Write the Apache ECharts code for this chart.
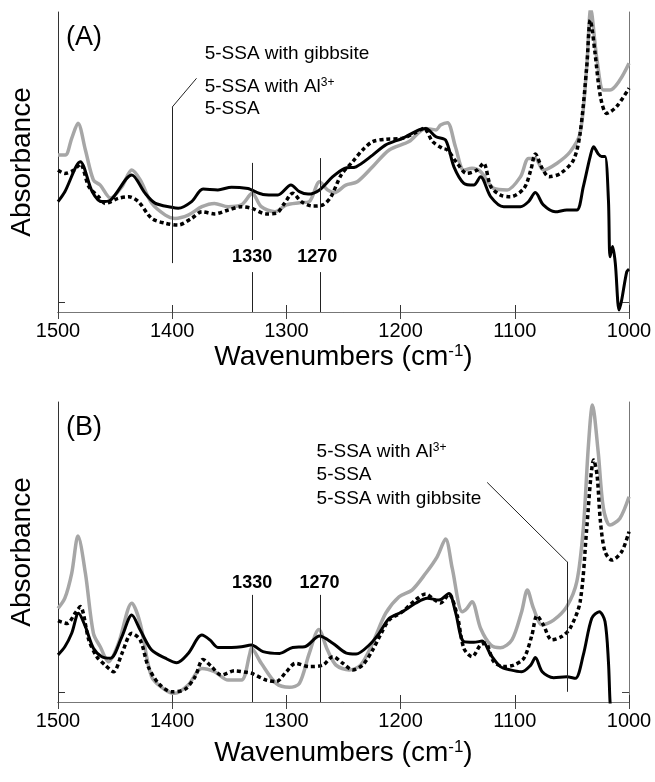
<!DOCTYPE html>
<html>
<head>
<meta charset="utf-8">
<script src="https://cdn.jsdelivr.net/npm/echarts@6/dist/echarts.min.js"></script>
<style>
html,body{margin:0;padding:0;background:#fff;}
#chart{width:655px;height:782px;}
</style>
</head>
<body>
<div id="chart"></div>
<script>
// ---------- DATA (wavenumber cm-1, relative absorbance) ----------
const xTicks = [1500, 1400, 1300, 1200, 1100, 1000];

// Panel A
const a_gib_wn = [1500,1494,1480.5,1470,1461.6,1454,1435.4,1424,1415,1400.5,1394.7,1383,1373,1360,1348,1333.6,1330.7,1320.5,1307.5,1296,1288.6,1281,1271,1259.4,1249,1239,1224.5,1213,1198.4,1184,1178,1169,1160.6,1153.3,1144.6,1135.9,1130,1121,1109.7,1095,1088,1082,1075,1064.6,1054.5,1045.7,1040,1034,1031,1027,1024,1021,1018,1016.6,1014.4,1012,1008.7,1006.4,1002,1000];
const a_gib_abs = [36.8,40.1,50.1,40.1,36.8,37.3,45.7,39.7,36.3,34.9,34.6,36.8,41.0,40.7,41.6,41.2,40.7,39.2,39.0,42.3,40.1,39.3,40.7,45.1,47.9,48.4,52.3,55.7,57.9,60.7,61.2,58.4,57.3,48.4,42.9,42.3,45.1,38.4,35.1,35.1,36.8,39.8,35.7,33.4,34.0,34.0,41.8,51.8,55.1,52.7,51.8,51.8,37.3,18.4,21.8,16.3,0.7,4.0,13.4,14.3];

const a_al_wn = [1500,1493.6,1488,1482.5,1476,1469,1463,1454,1444,1435.4,1428,1418,1406,1397.6,1386,1374,1363,1351,1339.4,1332,1330,1322,1310,1300,1288.6,1280,1271,1264,1258,1248,1238,1224.5,1210,1192.6,1178,1169,1165,1159,1152,1144.6,1137.5,1130,1118.4,1106.7,1095,1088,1082,1075,1063,1051.5,1042.8,1037,1033.5,1028,1022.4,1016.6,1008,1000];
const a_al_abs = [52.3,52.3,57.9,62.9,54.0,44.0,42.3,38.0,41.8,47.3,44.0,36.3,32.3,31.2,32.3,35.1,36.2,35.1,35.7,39.0,39.6,35.1,33.4,35.7,36.4,36.8,43.4,40.7,39.8,42.3,43.4,48.4,54.0,56.8,61.2,60.7,62.3,63.1,55.1,47.3,47.9,46.8,41.2,40.7,45.1,51.2,51.2,47.3,49.6,53.4,59.6,81.8,101,84.0,74.0,74.0,77.3,82.9];

const a_ssa_wn = [1500,1494,1486,1480.5,1473,1464.5,1458.7,1447,1438,1429.6,1418,1406,1394.7,1383,1374,1363,1351,1339.4,1330.7,1317.6,1309,1301.7,1294.5,1287,1277,1268,1261,1252,1242,1233.3,1224.5,1213,1198.4,1187,1179.6,1172,1163.5,1159,1150.5,1142,1133,1127.4,1121,1112.6,1104,1092,1086,1082,1076,1070,1060,1048.6,1042.8,1037,1034,1032.6,1029.7,1025,1019.5,1011,1000];
const a_ssa_abs = [47.3,46.2,47.3,49.3,41.8,38.4,36.2,37.9,38.4,36.8,31.2,29.6,29.0,31.2,33.4,32.7,34.0,35.1,34.6,32.7,32.9,36.2,39.6,36.8,35.3,35.7,38.4,45.7,50.1,54.0,56.8,57.6,57.9,59.8,61.2,56.8,54.6,54.0,49.6,46.2,47.3,49.6,41.8,39.0,38.4,41.2,47.3,52.7,47.9,45.1,46.2,50.7,59.6,81.8,97.3,95.1,86.2,71.8,66.2,68.4,74.6];

// Panel B
const b_gib_wn = [1500,1494,1488,1482,1476,1469,1461.6,1454,1444,1435.4,1428,1418,1406,1396,1386,1374,1367,1360,1348,1339.4,1330.7,1320.5,1306,1294.5,1284,1271,1259.4,1248,1239,1227.5,1218.8,1210,1198.4,1187,1176.6,1166.4,1157.7,1152,1144.6,1135.9,1128.6,1121,1112.6,1104,1094,1086,1082,1076,1066,1054.5,1047,1040,1032.6,1026,1021,1018,1016.6,1014];
const b_gib_abs = [15.7,18.4,22.9,29.6,25.1,17.9,15.1,14.6,21.8,29.0,24.0,17.3,14.6,13.1,16.2,22.3,20.7,18.2,18.2,18.4,19.0,16.8,16.2,18.2,18.4,22.0,19.6,16.4,16.0,19.0,22.9,27.9,30.1,32.9,34.6,34.0,36.2,30.1,20.1,19.9,20.3,15.7,11.8,10.7,10.1,12.3,14.8,10.1,8.1,8.4,7.9,15.7,27.9,30.1,26.8,13.4,0.1,-12.7];

const b_al_wn = [1500,1494,1488,1482.5,1476,1469,1463,1455.8,1447,1435.4,1428,1418,1406,1397.6,1386,1374,1363,1351,1339.4,1332,1330.7,1322,1309,1297.3,1288.6,1280,1271.7,1264,1256.6,1245,1235,1224.5,1213,1201.3,1190,1178,1168,1160.6,1154.8,1146,1142,1137.5,1130,1121,1112.6,1102.5,1094,1089,1083.6,1076,1066,1054.5,1045.7,1040,1035.5,1032,1027,1022.4,1016.6,1008,1000];
const b_al_abs = [31.2,34.6,42.9,55.3,42.9,22.9,18.4,13.4,19.6,32.9,26.2,8.4,4.0,2.9,5.7,11.2,10.1,7.3,7.3,16.2,17.9,12.9,6.2,4.9,6.2,16.2,24.2,17.3,12.3,10.7,12.3,19.6,29.6,35.1,37.3,42.9,48.4,54.3,44.6,30.1,31.2,33.4,24.6,19.0,18.1,20.7,30.1,37.3,31.2,25.7,27.3,31.8,40.1,57.9,85.7,99.0,83.4,64.6,59.0,61.2,68.4];

const b_ssa_wn = [1500,1492,1485,1480.5,1473,1466,1458.7,1451.4,1444,1435.4,1428,1421,1412,1400.5,1389,1380,1373,1365.6,1357,1345.4,1333.6,1330.7,1317.6,1309,1300,1292,1280,1268,1259.4,1250.6,1242,1233.3,1224.5,1217,1210,1198.4,1187,1178,1171,1165,1157.7,1150.5,1144.6,1137.5,1130,1125.6,1118.4,1109.7,1101,1092,1085,1080.6,1075,1067.6,1059,1051.5,1042.8,1037,1033.5,1031,1028,1025,1021,1015,1006.4,1000];
const b_ssa_abs = [27.1,26.2,29.6,31.8,20.7,15.1,12.3,10.1,16.2,22.9,20.7,11.8,6.2,3.4,4.2,8.4,14.2,11.8,9.0,10.4,9.8,9.6,7.3,6.8,10.1,12.9,11.8,12.3,15.1,12.9,10.7,12.3,17.3,22.9,27.3,30.1,34.0,36.0,34.2,33.0,35.9,29.0,17.9,15.1,19.0,19.6,13.4,11.8,12.3,14.6,22.3,28.8,25.7,20.7,21.8,24.6,33.4,57.9,74.6,80.7,75.7,60.1,50.1,47.3,50.1,56.8];

// Annotation positions (data space)
const markA = [1330, 1270];
const markB = [1330, 1270];
const namesA = ['5-SSA with gibbsite', '5-SSA with Al3+', '5-SSA'];
const namesB = ['5-SSA with Al3+', '5-SSA', '5-SSA with gibbsite'];

// ---------- CHART ----------
const FONT = 'Liberation Sans, Arial, Helvetica, sans-serif';
const pair = (w, a) => w.map((v, i) => [v, a[i]]);
const chart = echarts.init(document.getElementById('chart'), null, {renderer: 'canvas'});

const grids = [
  {left: 56, top: 12, width: 573, height: 300},
  {left: 56, top: 402, width: 573, height: 300}
];

function xAxes(gi, gap) {
  return [
    {
      gridIndex: gi, type: 'value', min: xTicks[xTicks.length - 1], max: xTicks[0], interval: 100, inverse: true,
      position: 'bottom',
      axisLine: {show: true, lineStyle: {color: '#333', width: 1}},
      axisTick: {show: true, inside: true, length: 7, lineStyle: {color: '#333'}},
      axisLabel: {show: true, color: '#000', fontSize: 20, fontFamily: FONT, margin: 9, formatter: v => String(v)},
      splitLine: {show: false},
      name: 'Wavenumbers (cm{s|-1})',
      nameLocation: 'middle', nameGap: gap,
      nameTextStyle: {color: '#000', fontSize: 28, fontFamily: FONT,
        rich: {s: {fontSize: 17, fontFamily: FONT, color: '#000', verticalAlign: 'top', padding: [0, 0, 12, 0]}}}
    },
    {
      gridIndex: gi, type: 'value', min: xTicks[xTicks.length - 1], max: xTicks[0], interval: 100, inverse: true,
      position: 'top',
      axisLine: {show: true, lineStyle: {color: '#777', width: 1}},
      axisTick: {show: true, inside: true, length: 7, lineStyle: {color: '#444'}},
      axisLabel: {show: false}, splitLine: {show: false}
    }
  ];
}
function yAxes(gi) {
  return [
    {
      gridIndex: gi, type: 'value', min: 0, max: 100, position: 'left',
      axisLine: {show: true, lineStyle: {color: '#333', width: 1}},
      axisTick: {show: true, inside: true, length: 7, customValues: [3.3], lineStyle: {color: '#333'}},
      axisLabel: {show: false}, splitLine: {show: false},
      name: 'Absorbance', nameLocation: 'middle', nameGap: 22,
      nameTextStyle: {color: '#000', fontSize: 28, fontFamily: FONT}
    },
    {
      gridIndex: gi, type: 'value', min: 0, max: 100, position: 'right',
      axisLine: {show: true, lineStyle: {color: '#777', width: 1}},
      axisTick: {show: true, inside: true, length: 7, customValues: [3.3], lineStyle: {color: '#444'}},
      axisLabel: {show: false}, splitLine: {show: false}
    }
  ];
}

const labelRich = {
  n: {fontSize: 19, fontFamily: FONT, color: '#000'},
  s: {fontSize: 12, fontFamily: FONT, color: '#000', verticalAlign: 'top', padding: [0, 0, 9, 0]}
};
function fmtName(s) {
  if (s.endsWith('Al3+')) return '{n|' + s.slice(0, -2) + '}{s|3+}';
  return '{n|' + s + '}';
}
function textPoint(coord, text) {
  return {coord: coord, symbol: 'circle', symbolSize: 1, itemStyle: {color: 'rgba(0,0,0,0)'},
    label: {show: true, position: 'right', distance: 0, formatter: fmtName(text), rich: labelRich}};
}
function numPoint(coord, text) {
  return {coord: coord, symbol: 'circle', symbolSize: 1, itemStyle: {color: 'rgba(0,0,0,0)'},
    label: {show: true, position: 'inside', formatter: text, color: '#000', fontSize: 18, fontWeight: 'bold', fontFamily: FONT}};
}
const thin = {color: '#222', width: 1, type: 'solid'};
function seg(a, b) { return [{coord: a}, {coord: b}]; }

const annotA = {
  markLine: {
    silent: true, symbol: ['none', 'none'], label: {show: false}, lineStyle: thin, animation: false,
    data: [
      seg([1400, 68.3], [1400, 16.3]),
      seg([1400, 68.3], [1378.7, 77.9]),
      seg([markA[0], 49.7], [markA[0], 24]),
      seg([markA[0], 13.3], [markA[0], 0]),
      seg([markA[1], 51.3], [markA[1], 24]),
      seg([markA[1], 13.3], [markA[1], 0])
    ]
  },
  markPoint: {
    silent: true, animation: false,
    data: [
      textPoint([1372, 86.2], namesA[0]),
      textPoint([1372, 75.1], namesA[1]),
      textPoint([1372, 67.9], namesA[2]),
      numPoint([markA[0], 18.3], String(markA[0])),
      numPoint([1273, 18.3], String(markA[1]))
    ]
  }
};
const annotB = {
  markLine: {
    silent: true, symbol: ['none', 'none'], label: {show: false}, lineStyle: thin, animation: false,
    data: [
      seg([1124.2, 73.2], [1054.4, 46.8]),
      seg([1054.4, 46.8], [1054.4, 3.4]),
      seg([markB[0], 35.7], [markB[0], 0]),
      seg([markB[1], 35.7], [markB[1], 0])
    ]
  },
  markPoint: {
    silent: true, animation: false,
    data: [
      textPoint([1274, 83.4], namesB[0]),
      textPoint([1274, 75.7], namesB[1]),
      textPoint([1274, 67.9], namesB[2]),
      numPoint([markB[0], 39.6], String(markB[0])),
      numPoint([1271, 39.6], String(markB[1]))
    ]
  }
};

function lineSeries(name, data, xi, yi, style, extra) {
  return Object.assign({
    name: name, type: 'line', data: data, xAxisIndex: xi, yAxisIndex: yi,
    showSymbol: false, symbol: 'none', smooth: 0.3, clip: true, silent: true,
    lineStyle: style, animation: false
  }, extra || {});
}
const greyStyle = {color: '#a6a6a6', width: 3.5};
const dotStyle = {color: '#000', width: 3.5, type: [4, 3], cap: 'butt'};
const blackStyle = {color: '#000', width: 3};

const option = {
  backgroundColor: '#fff',
  animation: false,
  grid: grids,
  xAxis: [...xAxes(0, 31), ...xAxes(1, 37)],
  yAxis: [...yAxes(0), ...yAxes(1)],
  graphic: [
    {type: 'text', left: 66, top: 24, style: {text: '(A)', fontSize: 27, fontFamily: FONT, fill: '#000'}},
    {type: 'text', left: 66, top: 414, style: {text: '(B)', fontSize: 27, fontFamily: FONT, fill: '#000'}}
  ],
  series: [
    lineSeries('5-SSA with Al3+', pair(a_al_wn, a_al_abs), 0, 0, greyStyle),
    lineSeries('5-SSA', pair(a_ssa_wn, a_ssa_abs), 0, 0, dotStyle),
    lineSeries('5-SSA with gibbsite', pair(a_gib_wn, a_gib_abs), 0, 0, blackStyle, annotA),
    lineSeries('5-SSA with Al3+', pair(b_al_wn, b_al_abs), 2, 2, greyStyle),
    lineSeries('5-SSA', pair(b_ssa_wn, b_ssa_abs), 2, 2, dotStyle),
    lineSeries('5-SSA with gibbsite', pair(b_gib_wn, b_gib_abs), 2, 2, blackStyle, annotB)
  ]
};
chart.setOption(option);
</script>
</body>
</html>
